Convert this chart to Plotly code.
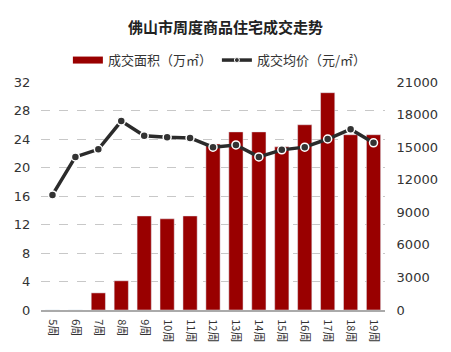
import plotly.graph_objects as go

weeks = ["5周", "6周", "7周", "8周", "9周", "10周", "11周", "12周", "13周", "14周", "15周", "16周", "17周", "18周", "19周"]
area = [0, 0, 2.4, 4.1, 13.2, 12.8, 13.2, 23.3, 25.0, 25.0, 22.9, 26.0, 30.5, 24.6, 24.6]
price = [10600, 14100, 14800, 17400, 16050, 15900, 15850, 15000, 15200, 14100, 14750, 15000, 15750, 16650, 15400]

bar_color = "#990000"
line_color = "#2b2b2b"

fig = go.Figure()
fig.add_trace(go.Bar(x=weeks, y=area, name="成交面积（万㎡）", marker_color=bar_color,
                     yaxis="y", showlegend=False))
fig.add_trace(go.Scatter(x=weeks, y=price, name="成交均价（元/㎡）", yaxis="y2",
                         mode="lines+markers", showlegend=False,
                         line=dict(color=line_color, width=3.5),
                         marker=dict(size=8, color="#333333", line=dict(color="white", width=1.5))))
# legend proxies
fig.add_trace(go.Scatter(x=[None], y=[None], name="成交面积（万㎡）", mode="lines",
                         line=dict(color=bar_color, width=7), yaxis="y"))
fig.add_trace(go.Scatter(x=[None], y=[None], name="成交均价（元/㎡）", mode="lines+markers",
                         line=dict(color=line_color, width=3.5),
                         marker=dict(size=5, color="#333333", line=dict(color="white", width=1)),
                         yaxis="y2"))

tickfont = dict(family="DejaVu Sans", size=13, color="#333333")
fig.update_layout(
    width=451, height=352,
    margin=dict(l=41, r=66, t=82, b=42, autoexpand=False),
    paper_bgcolor="white", plot_bgcolor="white",
    title=dict(text="<b>佛山市周度商品住宅成交走势</b>", x=0.5, xanchor="center", y=0.92, yanchor="middle",
               font=dict(family="Noto Sans CJK SC", size=15, color="#222222")),
    bargap=0.38,
    showlegend=True,
    legend=dict(orientation="h", x=0.52, y=1.096, xanchor="center", yanchor="middle",
                font=dict(family="Noto Sans CJK SC", size=13, color="#333333"),
                itemwidth=30, traceorder="normal", tracegroupgap=0),
    xaxis=dict(tickangle=90, tickfont=dict(family="Noto Sans CJK SC", size=11, color="#333333"),
               range=[-0.5, len(weeks) - 0.5], categoryorder="array", categoryarray=weeks,
               showline=True, linecolor="#aaaaaa", linewidth=2, ticks="outside", ticklen=5,
               tickcolor="white", showgrid=False, automargin=False),
    yaxis=dict(range=[0, 32], dtick=4, tickfont=tickfont, showgrid=True,
               gridcolor="#c8c8c8", griddash="dash", gridwidth=1, zeroline=False,
               ticks="outside", ticklen=7, tickcolor="white", automargin=False),
    yaxis2=dict(range=[0, 21000], dtick=3000, tickformat="d", overlaying="y", side="right",
                tickfont=tickfont, showgrid=False, zeroline=False, ticks="outside",
                ticklen=8, tickcolor="white", automargin=False),
)
fig.write_html("out.html")
